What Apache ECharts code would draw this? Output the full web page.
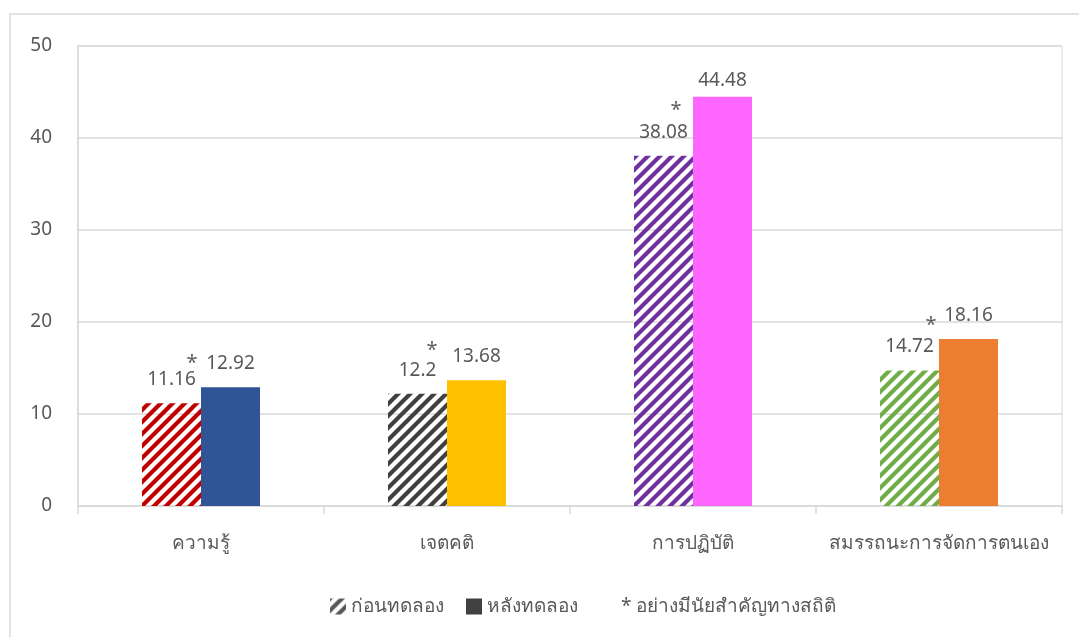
<!DOCTYPE html>
<html>
<head>
<meta charset="utf-8">
<script src="https://cdn.jsdelivr.net/npm/echarts@6/dist/echarts.min.js"></script>
<style>
  html, body { margin: 0; padding: 0; background: #fff; }
  #chart { width: 1079px; height: 637px; }
</style>
</head>
<body>
<div id="chart"></div>
<script>
  // ข้อมูล
  const categories = ["ความรู้", "เจตคติ", "การปฏิบัติ", "สมรรถนะการจัดการตนเอง"];
  const beforeValues = [11.16, 12.2, 38.08, 14.72];
  const afterValues = [12.92, 13.68, 44.48, 18.16];
  const starLevels = [16.0, 17.4, 43.4, 20.1]; // ระดับของเครื่องหมาย *
  const yTicks = [0, 10, 20, 30, 40, 50];
  const seriesNames = ["ก่อนทดลอง", "หลังทดลอง", "* อย่างมีนัยสำคัญทางสถิติ"];

  // สี
  const beforeColors = ["#C00000", "#404040", "#7030A0", "#70AD47"];
  const afterColors = ["#2F5597", "#FFC000", "#FF66FF", "#ED7D31"];
  const starShift = [-9, -15, -17, -8];
  const afterLabelGap = [14, 14, 7, 14];
  const font = "'Noto Sans', 'DejaVu Sans', sans-serif";
  const textColor = "#595959";
  const lineColor = "#d9d9d9";

  // ลายเส้นทแยง
  function stripes(color) {
    const c = document.createElement("canvas");
    c.width = c.height = 12;
    const g = c.getContext("2d");
    g.strokeStyle = color;
    g.lineWidth = 4.2;
    g.beginPath();
    g.moveTo(-3, 15); g.lineTo(15, -3);
    g.moveTo(-3, 3); g.lineTo(3, -3);
    g.moveTo(9, 15); g.lineTo(15, 9);
    g.stroke();
    return { image: c, repeat: "repeat" };
  }

  let chart = echarts.init(document.getElementById("chart"));
  let option = {
    animation: false,
    textStyle: { fontFamily: font },
    graphic: [
      {
        type: "rect",
        shape: { x: 10, y: 14, width: 1100, height: 700 },
        style: { fill: "none", stroke: lineColor, lineWidth: 1.5 },
        silent: true
      }
    ],
    legend: {
      bottom: 16,
      left: 325,
      itemWidth: 16,
      itemHeight: 16,
      itemGap: 22,
      textStyle: { fontSize: 19, color: textColor, fontFamily: font },
      data: [
        { name: seriesNames[0], icon: "rect" },
        { name: seriesNames[1], icon: "rect" },
        { name: seriesNames[2], icon: "none" }
      ]
    },
    grid: {
      left: 78,
      right: 17,
      top: 46,
      bottom: 131,
      show: true,
      borderColor: lineColor,
      borderWidth: 1
    },
    xAxis: {
      type: "category",
      data: categories,
      axisLine: { lineStyle: { color: lineColor, width: 1.5 } },
      axisTick: { show: true, interval: 0, length: 8, lineStyle: { color: lineColor, width: 1.5 } },
      axisLabel: { color: textColor, fontSize: 19, margin: 28, fontFamily: font, interval: 0 }
    },
    yAxis: {
      type: "value",
      min: yTicks[0],
      max: yTicks[yTicks.length - 1],
      interval: yTicks[1] - yTicks[0],
      axisLine: { show: true, lineStyle: { color: lineColor, width: 1.5 } },
      axisTick: { show: false },
      splitLine: { lineStyle: { color: lineColor, width: 1.5 } },
      axisLabel: { color: textColor, fontSize: 19, margin: 26, fontFamily: font }
    },
    series: [
      {
        name: seriesNames[0],
        type: "bar",
        barWidth: 59,
        barGap: "0%",
        itemStyle: { color: stripes("#595959") },
        label: { show: true, position: "top", distance: 14, color: textColor, fontSize: 19 },
        data: beforeValues.map((v, i) => ({ value: v, itemStyle: { color: stripes(beforeColors[i]) } }))
      },
      {
        name: seriesNames[1],
        type: "bar",
        barWidth: 59,
        barGap: "0%",
        itemStyle: { color: "#404040" },
        label: { show: true, position: "top", color: textColor, fontSize: 19 },
        data: afterValues.map((v, i) => ({
          value: v,
          itemStyle: { color: afterColors[i] },
          label: { distance: afterLabelGap[i] }
        }))
      },
      {
        name: seriesNames[2],
        type: "scatter",
        symbolSize: 1,
        itemStyle: { color: "rgba(0,0,0,0)" },
        label: {
          show: true,
          position: "inside",
          formatter: "*",
          color: "#333",
          fontSize: 20
        },
        data: starLevels.map((v, i) => ({ value: v, label: { offset: [starShift[i], 4] } }))
      }
    ]
  };
  chart.setOption(option);
  window.addEventListener("resize", () => {
    chart.resize();
  });
</script>
</body>
</html>
